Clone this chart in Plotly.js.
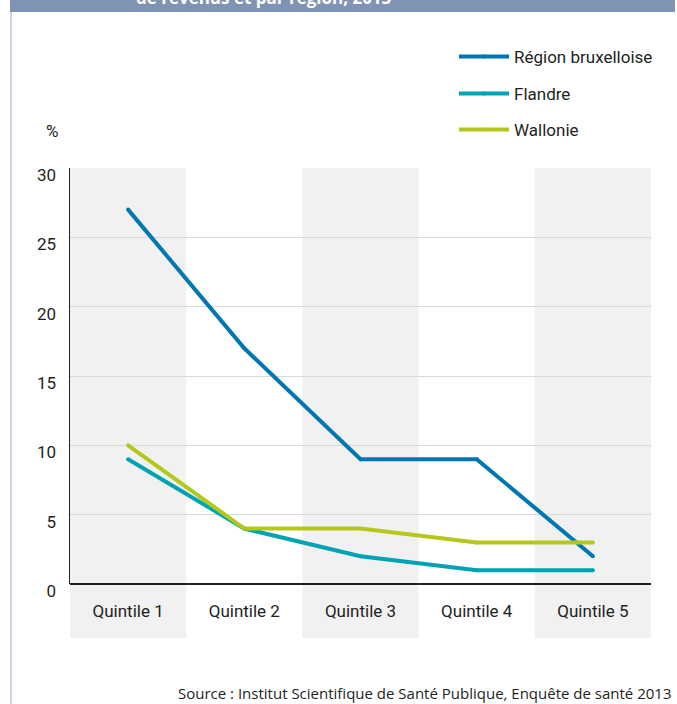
<!DOCTYPE html>
<html>
<head>
<meta charset="utf-8">
<script src="https://cdn.plot.ly/plotly-3.0.1.min.js"></script>
<style>html,body{margin:0;padding:0;background:#fff;}#chart{width:677px;height:704px;}</style>
</head>
<body>
<div id="chart"></div>
<script>
const categories = ["Quintile 1", "Quintile 2", "Quintile 3", "Quintile 4", "Quintile 5"];
const bruxelles = [27, 17, 9, 9, 2];
const flandre = [9, 4, 2, 1, 1];
const wallonie = [10, 4, 4, 3, 3];
const seriesNames = ["Région bruxelloise", "Flandre", "Wallonie"];
const seriesColors = ["#0077b1", "#00a3b1", "#b4c81c"];
const yTicks = [0, 5, 10, 15, 20, 25, 30];

const FONT = "'Roboto', 'Liberation Sans', sans-serif";
const W = 677, H = 704;
const M = {l: 70, r: 26, t: 168, b: 120};
const PW = W - M.l - M.r, PH = H - M.t - M.b;
const px2x = p => (p - M.l) / PW;
const py2y = p => 1 - (p - M.t) / PH;

const allSeries = [bruxelles, flandre, wallonie];
const legendIds = ["legend", "legend2", "legend3"];
const traces = allSeries.map((vals, i) => ({
  type: "scatter",
  mode: "lines+markers",
  x: categories,
  y: vals,
  name: seriesNames[i],
  line: {color: seriesColors[i], width: 4},
  marker: {color: seriesColors[i], size: 4},
  legend: legendIds[i],
  hoverinfo: "skip"
}));

const shapes = [];
categories.forEach((c, i) => {
  if (i % 2 === 0) {
    shapes.push({type: "rect", xref: "paper", yref: "paper", layer: "below",
      x0: i / categories.length, x1: (i + 1) / categories.length,
      y0: py2y(638), y1: 1, fillcolor: "#f1f1f1", line: {width: 0}});
  }
});
// banner and frame
shapes.push({type: "rect", xref: "paper", yref: "paper", x0: px2x(10), x1: px2x(675), y0: py2y(-2), y1: py2y(12), fillcolor: "#7f93b5", line: {width: 0}});
shapes.push({type: "line", xref: "paper", yref: "paper", x0: px2x(11), x1: px2x(11), y0: py2y(12), y1: py2y(706), line: {color: "#a9bcd8", width: 1.2}});

const legendPos = [57, 94, 130];
const legendLayouts = {};
legendIds.forEach((id, i) => {
  legendLayouts[id] = {
    x: px2x(454), xanchor: "left", y: py2y(legendPos[i]), yanchor: "middle",
    font: {family: FONT, size: 17, color: "#231f20"}, bgcolor: "rgba(0,0,0,0)",
    itemwidth: 50, borderwidth: 0
  };
});

const layout = Object.assign({
  width: W, height: H,
  margin: M,
  paper_bgcolor: "#ffffff",
  plot_bgcolor: "rgba(0,0,0,0)",
  showlegend: true,
  font: {family: FONT, size: 17, color: "#231f20"},
  xaxis: {
    type: "category", range: [-0.5, categories.length - 0.5],
    showgrid: false, zeroline: false, showline: false, ticks: "",
    tickfont: {family: FONT, size: 17, color: "#231f20"},
    ticklabelstandoff: 15, fixedrange: true
  },
  yaxis: {
    range: [0, 30], tickvals: yTicks, ticktext: yTicks.map(String),
    showgrid: true, gridcolor: "#d9d9d9", gridwidth: 1,
    zeroline: true, zerolinecolor: "#231f20", zerolinewidth: 1.5,
    showline: true, linecolor: "#231f20", linewidth: 1.5,
    ticks: "", ticklabelstandoff: 9, ticklabelshift: 7,
    tickfont: {family: FONT, size: 17, color: "#231f20"}, fixedrange: true
  },
  shapes: shapes,
  annotations: [
    {text: "%", xref: "paper", yref: "paper", x: px2x(52), y: py2y(131), xanchor: "center", yanchor: "middle", showarrow: false, font: {family: FONT, size: 17, color: "#231f20"}},
    {text: "Source : Institut Scientifique de Santé Publique, Enquête de santé 2013", xref: "paper", yref: "paper", x: px2x(673), y: py2y(693), xanchor: "right", yanchor: "middle", showarrow: false, font: {family: "'Open Sans', 'Noto Sans', sans-serif", size: 15, color: "#231f20"}},
    {text: "<b>de revenus et par région, 2013</b>", xref: "paper", yref: "paper", x: px2x(134), y: py2y(-3), xanchor: "left", yanchor: "middle", showarrow: false, font: {family: "'Open Sans', sans-serif", size: 17, color: "#ffffff"}}
  ]
}, legendLayouts);

Plotly.newPlot("chart", traces, layout, {displayModeBar: false, staticPlot: true});
</script>
</body>
</html>
